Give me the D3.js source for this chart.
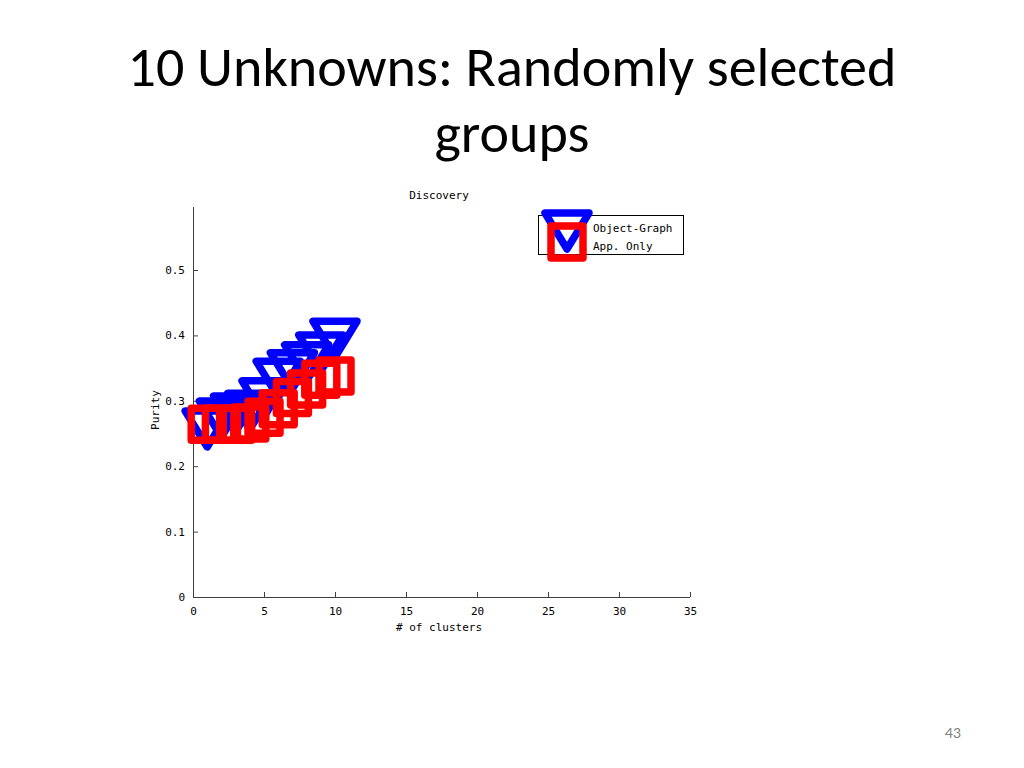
<!DOCTYPE html>
<html><head><meta charset="utf-8">
<script src="https://cdn.jsdelivr.net/npm/d3@7"></script>
<style>
html,body{margin:0;padding:0;background:#fff;}
svg{display:block;}
</style></head>
<body>
<svg id="c" width="1024" height="768"></svg>
<script>
const clusters = [1,2,3,4,5,6,7,8,9,10];
const objectGraph = [0.257,0.272,0.280,0.284,0.303,0.333,0.346,0.358,0.373,0.394];
const appOnly = [0.264,0.264,0.264,0.266,0.275,0.288,0.305,0.318,0.333,0.338];
const xTicks = [0,5,10,15,20,25,30,35];
const yTicks = [0,0.1,0.2,0.3,0.4,0.5];
const seriesNames = ["Object-Graph","App. Only"];

const svg = d3.select("#c");
const mono = "'DejaVu Sans Mono', monospace";
const titleFont = "Carlito, Lato, 'Open Sans', sans-serif";

// slide title
svg.append("text").attr("x",512).attr("y",86).attr("text-anchor","middle")
  .style("font-family",titleFont).style("font-size","56px").attr("fill","#000")
  .text("10 Unknowns: Randomly selected");
svg.append("text").attr("x",512).attr("y",152).attr("text-anchor","middle")
  .style("font-family",titleFont).style("font-size","56px").attr("fill","#000")
  .text("groups");
svg.append("text").attr("x",953).attr("y",738).attr("text-anchor","middle")
  .style("font-family","Lato, sans-serif").style("font-size","14px").attr("fill","#7f7f7f").text("43");

const x = d3.scaleLinear().domain([0,35]).range([193,690]);
const y = d3.scaleLinear().domain([0,0.5]).range([597,270]);
const yTop = 207;

const g = svg.append("g");
// axes
const xAx = g.append("g").attr("transform","translate(0,597)")
  .call(d3.axisBottom(x).tickValues(xTicks).tickSize(-5).tickPadding(8).tickFormat(d3.format("d")));
const yAx = g.append("g").attr("transform","translate(193,0)")
  .call(d3.axisLeft(y).tickValues(yTicks).tickSize(-5).tickPadding(8).tickFormat(d=> d===0?"0":d3.format(".1f")(d)));
[xAx,yAx].forEach(a=>{
  a.selectAll("path").remove();
  a.selectAll("line").attr("stroke","#404040");
  a.selectAll("text").style("font-family",mono).style("font-size","11px").attr("fill","#000");
});
xAx.selectAll("text").attr("dy","0.9em");
g.append("line").attr("x1",193).attr("x2",690).attr("y1",597.5).attr("y2",597.5).attr("stroke","#404040");
g.append("line").attr("x1",193.5).attr("x2",193.5).attr("y1",yTop).attr("y2",597).attr("stroke","#404040");

// labels
svg.append("text").attr("x",439).attr("y",199).attr("text-anchor","middle")
  .style("font-family",mono).style("font-size","11px").text("Discovery");
svg.append("text").attr("x",439).attr("y",631).attr("text-anchor","middle")
  .style("font-family",mono).style("font-size","11px").text("# of clusters");
svg.append("text").attr("transform","translate(159,410) rotate(-90)").attr("text-anchor","middle")
  .style("font-family",mono).style("font-size","11px").text("Purity");

// markers
const triW = 22, triH = 18; // half width, half height
function triPath(cx,cy){return `M${cx-triW},${cy-triH}L${cx+triW},${cy-triH}L${cx},${cy+triH}Z`;}
const sq = 16;
const sw = 7.5;

const data1 = clusters.map((c,i)=>({c,v:objectGraph[i]}));
const data2 = clusters.map((c,i)=>({c,v:appOnly[i]}));

g.selectAll(".tri").data(data1).enter().append("path")
  .attr("d",d=>triPath(x(d.c),y(d.v)))
  .attr("fill","none").attr("stroke","#0000ff").attr("stroke-width",sw).attr("stroke-linejoin","round");
g.selectAll(".sq").data(data2).enter().append("rect")
  .attr("x",d=>x(d.c)-sq).attr("y",d=>y(d.v)-sq).attr("width",2*sq).attr("height",2*sq)
  .attr("fill","none").attr("stroke","#ff0000").attr("stroke-width",sw).attr("stroke-linejoin","round");

// legend
svg.append("rect").attr("x",538.5).attr("y",215.5).attr("width",145).attr("height",39)
  .attr("fill","#fff").attr("stroke","#000").attr("stroke-width",1);
svg.append("path").attr("d",triPath(567,231)).attr("fill","none").attr("stroke","#0000ff").attr("stroke-width",sw).attr("stroke-linejoin","round");
svg.append("rect").attr("x",567-sq).attr("y",242-sq).attr("width",2*sq).attr("height",2*sq)
  .attr("fill","none").attr("stroke","#ff0000").attr("stroke-width",sw).attr("stroke-linejoin","round");
seriesNames.forEach((n,i)=>{
  svg.append("text").attr("x",593).attr("y",232+i*18).style("font-family",mono).style("font-size","11px").text(n);
});
</script>
</body></html>
